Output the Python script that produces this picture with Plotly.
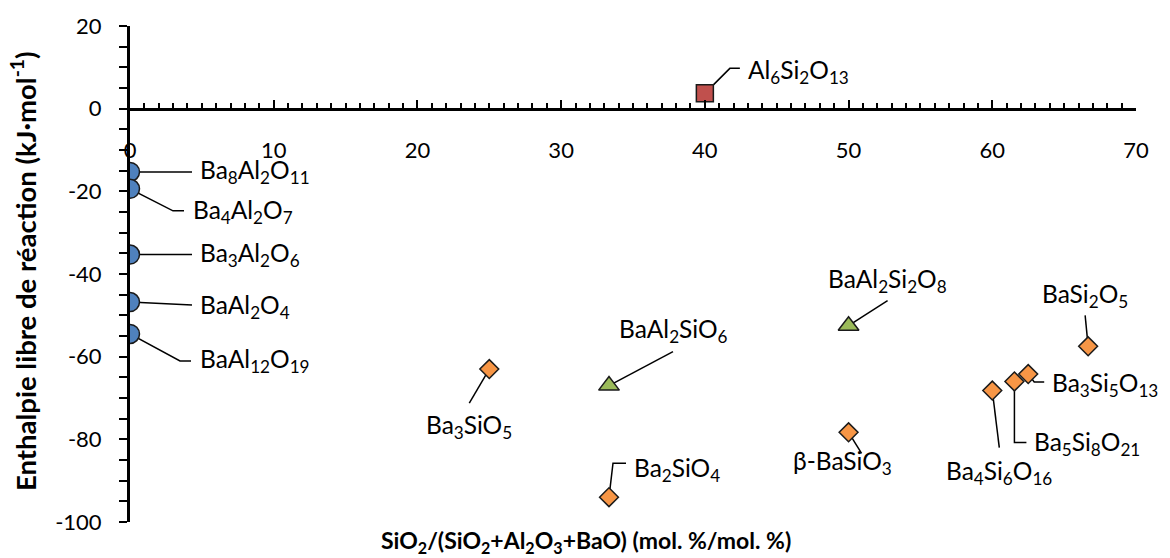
import plotly.graph_objects as go

# ---------------- data ----------------
# Barium aluminates (SiO2 fraction = 0)
alu_x = [0, 0, 0, 0, 0]
alu_y = [-15.3, -19.4, -35.3, -46.8, -54.5]
alu_names = ["Ba<sub>8</sub>Al<sub>2</sub>O<sub>11</sub>",
             "Ba<sub>4</sub>Al<sub>2</sub>O<sub>7</sub>",
             "Ba<sub>3</sub>Al<sub>2</sub>O<sub>6</sub>",
             "BaAl<sub>2</sub>O<sub>4</sub>",
             "BaAl<sub>12</sub>O<sub>19</sub>"]

# Mullite
mul_x = [40]
mul_y = [3.7]
mul_names = ["Al<sub>6</sub>Si<sub>2</sub>O<sub>13</sub>"]

# Barium aluminosilicates
alsi_x = [33.33, 50]
alsi_y = [-67.0, -52.5]
alsi_names = ["BaAl<sub>2</sub>SiO<sub>6</sub>",
              "BaAl<sub>2</sub>Si<sub>2</sub>O<sub>8</sub>"]

# Barium silicates
sil_x = [25, 33.33, 50, 66.67, 62.5, 61.54, 60]
sil_y = [-63.0, -94.0, -78.3, -57.5, -64.2, -66.0, -68.2]
sil_names = ["Ba<sub>3</sub>SiO<sub>5</sub>",
             "Ba<sub>2</sub>SiO<sub>4</sub>",
             "β-BaSiO<sub>3</sub>",
             "BaSi<sub>2</sub>O<sub>5</sub>",
             "Ba<sub>3</sub>Si<sub>5</sub>O<sub>13</sub>",
             "Ba<sub>5</sub>Si<sub>8</sub>O<sub>21</sub>",
             "Ba<sub>4</sub>Si<sub>6</sub>O<sub>16</sub>"]

y_ticks = [20, 0, -20, -40, -60, -80, -100]
y_tick_text = ["20", "0", "-20", "-40", "-60", "-80", "-100"]
x_ticks = [0, 10, 20, 30, 40, 50, 60, 70]
x_tick_text = ["0", "10", "20", "30", "40", "50", "60", "70"]

x_title = "<b>SiO<sub>2</sub>/(SiO<sub>2</sub>+Al<sub>2</sub>O<sub>3</sub>+BaO) (mol. %/mol. %)</b>"
y_title = "<b>Enthalpie libre de réaction (kJ·mol<sup>-1</sup>)</b>"

# ---------------- label placement (pixel offsets from the point; dy up) ----------------
# (leader polyline, text xanchor, text xshift, text yshift)
alu_lab = [([(0, 0), (62, 0)], "left", 68, 0),
           ([(0, 0), (43, -22), (54, -22)], "left", 61, -23),
           ([(0, 0), (62, 0)], "left", 68, 0),
           ([(0, 0), (62, -3)], "left", 68, -4),
           ([(0, 0), (50, -27), (61, -27)], "left", 68, -27)]
mul_lab = [([(0, 0), (25, 25), (35, 25)], "left", 41, 22)]
alsi_lab = [([(0, 0), (64, 34)], "center", 64, 55),
            ([(0, 0), (39, 25)], "center", 39, 45)]
sil_lab = [([(0, 0), (-20, -34)], "center", -20, -57),
           ([(0, 0), (4, 34), (17, 34)], "left", 23, 28),
           ([(0, 0), (13, -21)], "center", -6, -30),
           ([(0, 0), (-3, 31)], "center", -3, 51),
           ([(0, 0), (6, -8), (16, -8)], "left", 22, -10),
           ([(0, 0), (0, -61), (12, -61)], "left", 18, -62),
           ([(0, 0), (7, -57)], "center", 7, -82)]

FONT = "Lato"
EDGE = "#1a1a1a"
LABEL_SIZE = 24.5

fig = go.Figure()

series = [
    (alu_x, alu_y, alu_names, alu_lab, "circle", 19, "#4f81bd"),
    (mul_x, mul_y, mul_names, mul_lab, "square", 17, "#c0504d"),
    (alsi_x, alsi_y, alsi_names, alsi_lab, "triangle-up", 18, "#9bbb59"),
    (sil_x, sil_y, sil_names, sil_lab, "diamond", 14.5, "#f79646"),
]

shapes = []
annotations = []
for xs, ys, names, labs, sym, size, col in series:
    for x, y, name, (pts, xa, xs_, ys_) in zip(xs, ys, names, labs):
        path = "M" + " L".join(f"{px},{py}" for px, py in pts)
        shapes.append(dict(type="path", xref="x", yref="y",
                           xsizemode="pixel", ysizemode="pixel",
                           xanchor=x, yanchor=y, path=path,
                           line=dict(color="black", width=1.5), layer="below"))
        annotations.append(dict(x=x, y=y, xref="x", yref="y", text=name,
                                showarrow=False, xanchor=xa, yanchor="middle",
                                xshift=xs_, yshift=ys_,
                                font=dict(family=FONT, size=LABEL_SIZE, color="black")))

for xs, ys, names, labs, sym, size, col in series:
    fig.add_trace(go.Scatter(x=xs, y=ys, mode="markers", showlegend=False,
                             hoverinfo="skip",
                             marker=dict(symbol=sym, size=size, color=col,
                                         line=dict(color=EDGE, width=1.5))))

annotations.append(dict(x=0.4528, y=0, xref="paper", yref="paper", text=x_title,
                        showarrow=False, xanchor="center", yanchor="middle",
                        yshift=-19, font=dict(family=FONT, size=23, color="black")))
annotations.append(dict(x=0, y=0.5, xref="paper", yref="paper", text=y_title,
                        showarrow=False, xanchor="center", yanchor="middle",
                        xshift=-107, yshift=3, textangle=-90,
                        font=dict(family=FONT, size=27.5, color="black")))

fig.update_layout(
    width=1170, height=558,
    margin=dict(l=130, r=34, t=24, b=36),
    paper_bgcolor="white", plot_bgcolor="white",
    font=dict(family=FONT, size=22, color="black"),
    shapes=shapes, annotations=annotations,
    xaxis=dict(range=[0, 70], anchor="free", position=100 / 120,
               showline=True, linecolor="black", linewidth=3,
               ticks="inside", ticklen=8, tickwidth=2, tickcolor="black",
               tickvals=x_ticks, ticktext=x_tick_text,
               minor=dict(dtick=1, tick0=0, ticks="inside", ticklen=5,
                          tickwidth=1.5, tickcolor="black", showgrid=False),
               showgrid=False, zeroline=False,
               tickfont=dict(family=FONT, size=22, color="black"),
               ticklabelstandoff=21),
    yaxis=dict(range=[-100, 20], domain=[0, 1],
               showline=True, linecolor="black", linewidth=3,
               ticks="outside", ticklen=8, tickwidth=2, tickcolor="black",
               tickvals=y_ticks, ticktext=y_tick_text,
               minor=dict(dtick=5, tick0=0, ticks="outside", ticklen=8,
                          tickwidth=1.5, tickcolor="black", showgrid=False),
               showgrid=False, zeroline=False,
               tickfont=dict(family=FONT, size=22, color="black"),
               ticklabelstandoff=13),
)

fig.write_html("out.html",
               config={"displayModeBar": False},
               post_script="document.body.style.margin='0';"
                           "document.body.style.overflow='hidden';")
